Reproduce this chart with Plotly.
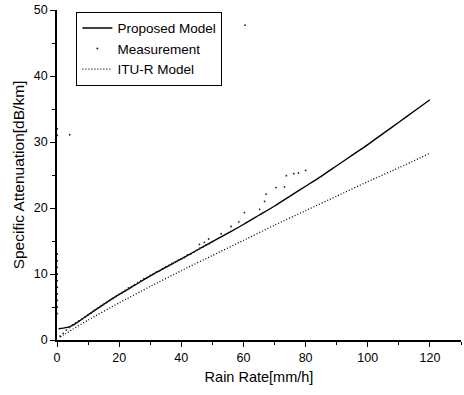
import plotly.graph_objects as go

# Proposed model curve
prop_r = [0.5, 2, 4, 5, 6, 8, 10, 15, 20, 25, 30, 35, 40, 45, 50, 55, 60, 65, 70,
          75, 80, 85, 90, 95, 100, 105, 110, 115, 120]
prop_a = [1.7, 1.8, 2.0, 2.2, 2.5, 3.15, 3.8, 5.4, 6.9, 8.3, 9.7, 11.0, 12.3, 13.6,
          14.9, 16.2, 17.5, 18.9, 20.3, 21.8, 23.3, 24.8, 26.4, 28.0, 29.6, 31.3,
          33.0, 34.7, 36.4]

# ITU-R model curve
itu_r = [1, 2, 5, 10, 20, 30, 40, 50, 60, 70, 80, 90, 100, 110, 120]
itu_a = [0.45, 0.71, 1.62, 3.02, 5.63, 8.11, 10.5, 12.8, 15.1, 17.4, 19.6, 21.8,
         24.0, 26.1, 28.3]

# Measurement points
meas_r = [1, 2, 3, 4, 5, 6, 7, 8, 9, 10, 11, 12, 13, 14, 15, 16, 17, 18, 19, 20,
          21, 22, 23, 24, 25, 26, 27, 28, 29, 30, 31, 32, 33, 34, 35, 36, 37, 38,
          39, 40, 41, 42, 43, 44, 45, 46, 47, 48, 49, 50,
          45.8, 47.4, 48.8, 52.8, 56.0, 58.5, 60.3, 65.2, 66.8, 67.3, 70.5, 73.2,
          73.8, 76.2, 77.7, 80.0, 4.1, 60.5,
          0.1, 0.1, 0.1, 0.1, 0.1, 0.1, 0.1, 0.1, 0.1, 0.1, 0.1, 0.1]
meas_a = [0.6, 1.0, 1.5, 1.9, 2.3, 2.6, 2.9, 3.2, 3.5, 3.8, 4.1, 4.5, 4.8, 5.1, 5.4,
          5.7, 6.0, 6.3, 6.6, 6.9, 7.2, 7.5, 7.9, 8.1, 8.4, 8.7, 9.0, 9.3, 9.5, 9.8,
          10.0, 10.3, 10.5, 10.8, 11.1, 11.3, 11.6, 11.8, 12.1, 12.3, 12.5, 12.9,
          13.0, 13.3, 13.6, 13.9, 14.1, 14.4, 14.6, 14.9,
          14.5, 14.8, 15.3, 16.1, 17.2, 17.9, 19.3, 19.8, 21.0, 22.1, 23.1, 23.2,
          24.9, 25.2, 25.3, 25.7, 31.1, 47.7,
          4, 5, 6, 7, 8, 9, 10, 11, 12, 13, 31, 32]

FONT = "Liberation Sans, Arial, sans-serif"

fig = go.Figure()
fig.add_trace(go.Scatter(x=prop_r, y=prop_a, mode="lines", name="Proposed Model",
                         line=dict(color="black", width=1.4, shape="spline",
                                   smoothing=0.6)))
fig.add_trace(go.Scatter(x=meas_r, y=meas_a, mode="markers", name="Measurement",
                         marker=dict(color="#222222", size=1.8)))
fig.add_trace(go.Scatter(x=itu_r, y=itu_a, mode="lines", name="ITU-R Model",
                         line=dict(color="black", width=1.3, dash="1px,2px",
                                   shape="spline", smoothing=0.6)))

fig.update_layout(
    width=464, height=395,
    margin=dict(l=57, r=3, t=10, b=55),
    paper_bgcolor="white", plot_bgcolor="white",
    font=dict(family=FONT, size=12, color="black"),
    showlegend=True,
    legend=dict(x=0.048, y=0.995, xanchor="left", yanchor="top",
                bordercolor="black", borderwidth=1, bgcolor="white",
                font=dict(size=13.5, family=FONT), tracegroupgap=0,
                itemwidth=30),
    xaxis=dict(range=[0, 130], showline=True, linecolor="black", linewidth=1.5,
               showgrid=False, zeroline=False, ticks="outside", ticklen=5,
               tickwidth=1.2, tickcolor="black", dtick=20, tick0=0,
               minor=dict(ticks="outside", ticklen=3, dtick=10, tickcolor="black"),
               title=dict(text="Rain Rate[mm/h]", font=dict(size=14.5), standoff=8),
               tickfont=dict(size=12.5)),
    yaxis=dict(range=[0, 50], showline=True, linecolor="black", linewidth=1.5,
               showgrid=False, zeroline=False, ticks="outside", ticklen=5,
               tickwidth=1.2, tickcolor="black", dtick=10, tick0=0,
               minor=dict(ticks="outside", ticklen=3, dtick=5, tickcolor="black"),
               title=dict(text="Specific Attenuation[dB/km]", font=dict(size=15.5),
                          standoff=5),
               tickfont=dict(size=12.5)),
)

fig.write_html("out.html")
